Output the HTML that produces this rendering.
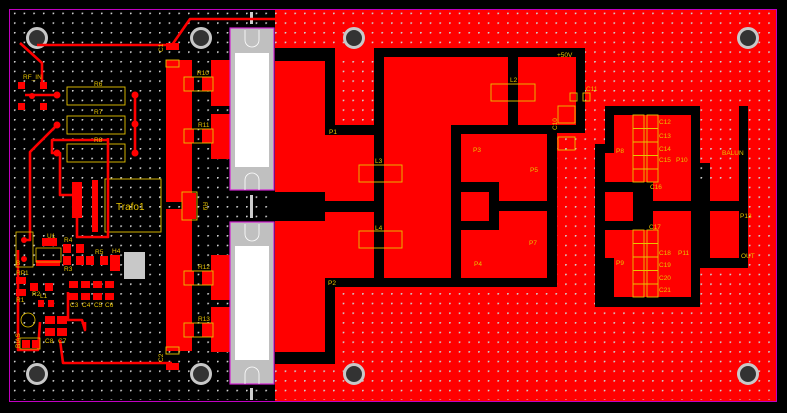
<!DOCTYPE html>
<html><head><meta charset="utf-8"><style>
html,body{margin:0;padding:0;background:#000;}
svg{display:block;}
text{font-family:"Liberation Sans",sans-serif;fill:#e8c400;font-size:6.5px;}
</style></head><body>
<svg width="787" height="413" viewBox="0 0 787 413" xmlns="http://www.w3.org/2000/svg">
<defs>
<pattern id="v" x="23.6" y="22.3" width="9.67" height="9.67" patternUnits="userSpaceOnUse">
<circle cx="0.6" cy="0.6" r="1.1" fill="#cfcfcf"/>
</pattern>
</defs>
<rect width="787" height="413" fill="#000"/>
<!-- right red copper -->
<rect x="275" y="10" width="502" height="392" fill="#ff0000"/>
<!-- vias everywhere -->
<rect x="12" y="12" width="762" height="388" fill="url(#v)"/>
<!-- black cutouts left/center -->
<rect x="275" y="48" width="310" height="239" fill="#000"/>
<rect x="557" y="133" width="28" height="154" fill="#ff0000"/>
<rect x="557" y="133" width="28" height="154" fill="url(#v)"/>
<rect x="275" y="287" width="60" height="77" fill="#000"/>
<!-- red blocks -->
<g fill="#ff0000">
<rect x="275" y="61" width="50" height="131"/>
<rect x="275" y="221" width="50" height="131"/>
<rect x="335" y="48" width="39" height="77"/>
<rect x="325" y="135" width="49" height="66"/>
<rect x="325" y="212" width="49" height="66"/>
<rect x="384" y="57" width="67" height="221"/>
<rect x="451" y="57" width="57" height="68"/>
<rect x="518" y="57" width="58" height="68"/>
<rect x="461" y="134" width="86" height="48"/>
<rect x="499" y="182" width="48" height="19"/>
<rect x="461" y="192" width="28" height="29"/>
<rect x="499" y="211" width="48" height="19"/>
<rect x="461" y="230" width="86" height="48"/>
</g>
<rect x="335" y="57" width="39" height="68" fill="url(#v)"/>
<!-- right section black -->
<path d="M605 106 H748 V268 H700 V307 H595 V144 H605 Z" fill="#000"/>
<g fill="#ff0000">
<path d="M700 106 H739 V201 H710 V163 H700 Z"/>
<rect x="710" y="211" width="29" height="47"/>
<rect x="614" y="115" width="77" height="67"/>
<rect x="605" y="153" width="10" height="29"/>
<rect x="653" y="182" width="38" height="19"/>
<rect x="605" y="192" width="28" height="29"/>
<rect x="653" y="211" width="38" height="19"/>
<rect x="614" y="230" width="77" height="67"/>
<rect x="605" y="230" width="10" height="28"/>
</g>
<rect x="700" y="106" width="39" height="80" fill="url(#v)"/>
<!-- yellow outlines right -->
<g fill="none" stroke="#e8c400" stroke-width="0.9">
<rect x="491" y="84" width="44" height="17"/>
<rect x="359" y="165" width="43" height="17"/>
<rect x="359" y="231" width="43" height="17"/>
<rect x="570" y="93" width="7" height="8"/><rect x="583" y="93" width="7" height="8"/>
<rect x="558" y="106" width="17" height="17"/><rect x="558" y="137" width="17" height="13"/>
</g>
<g stroke="#e8c400" stroke-width="0.9" fill="none">
<rect x="633" y="115" width="11" height="67"/><rect x="647" y="115" width="11" height="67"/>
<path d="M633 128.5h25M633 142h25M633 155.5h25M633 169h25"/>
<rect x="633" y="230" width="11" height="67"/><rect x="647" y="230" width="11" height="67"/>
<path d="M633 243.5h25M633 257h25M633 270.5h25M633 284h25"/>
</g>
<!-- labels right -->
<text x="557" y="57">+50V</text><text x="510" y="82">L2</text><text x="586" y="91">C11</text>
<text x="375" y="163">L3</text><text x="375" y="230">L4</text>
<text x="329" y="134">P1</text><text x="328" y="285">P2</text>
<text x="473" y="152">P3</text><text x="530" y="172">P5</text><text x="529" y="245">P7</text><text x="474" y="266">P4</text>
<text x="659" y="124">C12</text><text x="659" y="138">C13</text><text x="659" y="151">C14</text><text x="659" y="162">C15</text>
<text x="650" y="189">C16</text><text x="649" y="229">C17</text>
<text x="659" y="255">C18</text><text x="659" y="267">C19</text><text x="659" y="280">C20</text><text x="659" y="292">C21</text>
<text x="616" y="153">P8</text><text x="676" y="162">P10</text><text x="616" y="265">P9</text><text x="678" y="255">P11</text>
<text x="722" y="155">BALUN</text><text x="740" y="218">P13</text><text x="741" y="258">OUT</text>
<text x="0" y="0" transform="translate(557,130) rotate(-90)">C10</text>
<!-- mounting holes -->
<g fill="#333" stroke="#c8c8c8" stroke-width="3">
<circle cx="37" cy="38" r="9.5"/><circle cx="201" cy="38" r="9.5"/><circle cx="354" cy="38" r="9.5"/><circle cx="748" cy="38" r="9.5"/>
<circle cx="37" cy="374" r="9.5"/><circle cx="201" cy="374" r="9.5"/><circle cx="354" cy="374" r="9.5"/><circle cx="748" cy="374" r="9.5"/>
</g>
<!-- left big red bars -->
<g fill="#ff0000">
<rect x="166" y="60" width="26" height="142"/>
<rect x="166" y="209" width="26" height="142"/>
<rect x="211" y="60" width="20" height="46"/><rect x="211" y="114" width="20" height="45"/>
<rect x="211" y="255" width="20" height="45"/><rect x="211" y="307" width="20" height="45"/>
<rect x="184" y="77" width="10" height="14"/><rect x="202" y="77" width="10" height="14"/>
<rect x="184" y="129" width="10" height="14"/><rect x="202" y="129" width="10" height="14"/>
<rect x="184" y="271" width="10" height="14"/><rect x="202" y="271" width="10" height="14"/>
<rect x="184" y="323" width="10" height="14"/><rect x="202" y="323" width="10" height="14"/>
<rect x="182" y="193" width="14" height="26"/>
<rect x="166" y="43" width="13" height="7"/><rect x="166" y="363" width="13" height="7"/>
</g>
<g fill="none" stroke="#e8c400" stroke-width="0.9">
<rect x="184" y="77" width="29" height="14"/><rect x="184" y="129" width="29" height="14"/>
<rect x="184" y="271" width="29" height="14"/><rect x="184" y="323" width="29" height="14"/>
<rect x="182" y="192" width="15" height="28"/>
<rect x="166" y="60" width="13" height="7"/><rect x="166" y="347" width="13" height="7"/>
<rect x="105" y="179" width="56" height="53"/>
<rect x="67" y="87" width="58" height="18"/><rect x="67" y="116" width="58" height="18"/><rect x="67" y="144" width="58" height="18"/>
</g>
<!-- transistor packages -->
<g>
<rect x="230" y="28" width="44" height="162" fill="#c0c0c0" stroke="#d020d0" stroke-width="1.2"/>
<rect x="235" y="53" width="34" height="114" fill="#fff"/>
<rect x="230" y="222" width="44" height="162" fill="#c0c0c0" stroke="#d020d0" stroke-width="1.2"/>
<rect x="235" y="246" width="34" height="114" fill="#fff"/>
<g fill="none" stroke="#fff" stroke-width="0.8"><path d="M245 30v10a7 7 0 0 0 14 0v-10M245 190v-10a7 7 0 0 1 14 0v10M245 224v10a7 7 0 0 0 14 0v-10M245 384v-10a7 7 0 0 1 14 0v10"/></g>
</g>
<g fill="#ccc"><rect x="250" y="12" width="3" height="12"/><rect x="250" y="195" width="3" height="23"/><rect x="250" y="388" width="3" height="12"/></g>
<!-- traces -->
<g fill="none" stroke="#ff0000" stroke-width="2.6" stroke-linejoin="round">
<path d="M37 45 H172 L190 19 H275"/>
<path d="M20 43 L42 63 V83"/>
<path d="M57 125 L30 152 V240 H24"/>
<path d="M108 140 H52 V153 L60 153 V195 H80"/>
<path d="M135 95 V152"/>
<path d="M108 138 V237 H77 V195"/>
<path d="M60 340 L63 363 H172"/>
<path d="M25 95 H57"/>
<path d="M40 322 L38 350 H18 V250"/>
<path d="M68 292 V320 L82 320 L85 330 V322"/>
</g>
<g fill="#ff0000">
<circle cx="57" cy="95" r="3.5"/><circle cx="57" cy="125" r="3.5"/><circle cx="57" cy="153" r="3.5"/>
<circle cx="135" cy="95" r="3.5"/><circle cx="135" cy="124" r="3.5"/><circle cx="135" cy="153" r="3.5"/>
<circle cx="32" cy="96" r="3"/>
<rect x="18" y="82" width="7" height="7"/><rect x="40" y="82" width="7" height="7"/>
<rect x="18" y="103" width="7" height="7"/><rect x="40" y="103" width="7" height="7"/>
<rect x="72" y="182" width="10" height="36"/><rect x="92" y="180" width="6" height="52"/>
<rect x="42" y="238" width="15" height="8"/><rect x="36" y="260" width="24" height="6"/>
<rect x="63" y="244" width="8" height="9"/><rect x="76" y="244" width="8" height="9"/>
<rect x="63" y="256" width="8" height="9"/><rect x="76" y="256" width="8" height="9"/>
<rect x="86" y="256" width="8" height="9"/><rect x="100" y="256" width="8" height="9"/>
<rect x="110" y="255" width="10" height="16"/>
<rect x="69" y="281" width="9" height="7"/><rect x="81" y="281" width="9" height="7"/><rect x="93" y="281" width="9" height="7"/><rect x="105" y="281" width="9" height="7"/>
<rect x="69" y="293" width="9" height="7"/><rect x="81" y="293" width="9" height="7"/><rect x="93" y="293" width="9" height="7"/><rect x="105" y="293" width="9" height="7"/>
<rect x="16" y="277" width="10" height="7"/><rect x="16" y="289" width="10" height="7"/>
<rect x="30" y="283" width="8" height="8"/><rect x="45" y="283" width="8" height="8"/>
<rect x="38" y="300" width="6" height="7"/><rect x="48" y="300" width="6" height="7"/>
<rect x="45" y="316" width="10" height="8"/><rect x="57" y="316" width="10" height="8"/>
<rect x="45" y="328" width="10" height="8"/><rect x="57" y="328" width="10" height="8"/>
<rect x="22" y="340" width="8" height="8"/><rect x="32" y="340" width="8" height="8"/>
<circle cx="24" cy="240" r="3"/><circle cx="24" cy="259" r="3"/>
</g>
<rect x="124" y="252" width="21" height="27" fill="#c8c8c8"/>
<g fill="none" stroke="#e8c400" stroke-width="0.8">
<rect x="16" y="232" width="17" height="35"/><rect x="36" y="248" width="25" height="14"/>
<circle cx="28" cy="320" r="7"/><rect x="20" y="338" width="20" height="11"/>
</g>
<text x="23" y="79">RF_IN</text><text x="94" y="86">R6</text><text x="94" y="114">R7</text><text x="94" y="142">R8</text>
<text x="116" y="210" style="font-size:10px">Trafo1</text>
<text x="197" y="75">R10</text><text x="198" y="127">R11</text><text x="198" y="269">R12</text><text x="198" y="321">R13</text>
<text x="47" y="238">U1</text><text x="64" y="242">R4</text><text x="64" y="271">R3</text><text x="95" y="254">R5</text><text x="112" y="253">H4</text>
<text x="16" y="275">RP1</text><text x="16" y="302">R1</text><text x="32" y="296">R2</text><text x="40" y="298">L1</text>
<text x="70" y="307">C3</text><text x="82" y="307">C4</text><text x="94" y="307">C5</text><text x="105" y="307">C6</text>
<text x="45" y="343">C8</text><text x="58" y="343">C7</text><text x="16" y="265">B</text>
<text x="0" y="0" transform="translate(163,52) rotate(-90)">C1</text>
<text x="0" y="0" transform="translate(163,362) rotate(-90)">C2</text>
<text x="0" y="0" transform="translate(203,202) rotate(90)">R9</text>
<text x="0" y="0" transform="translate(20,348) rotate(-90)">BIAS</text>
<!-- board outline -->
<rect x="9.5" y="9.5" width="767" height="392" fill="none" stroke="#c000c0" stroke-width="1"/>
</svg>
</body></html>
